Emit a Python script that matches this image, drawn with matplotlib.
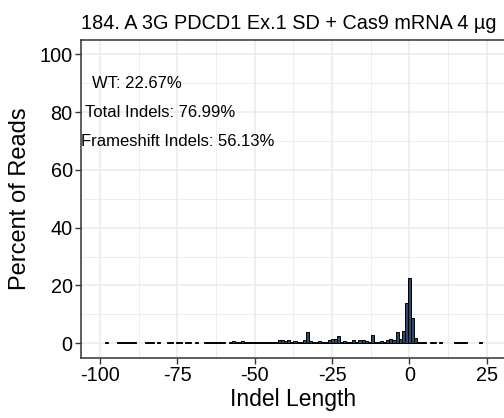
import matplotlib
matplotlib.use('Agg')
import matplotlib.pyplot as plt
import numpy as np

# indel length (bp) and percent of reads
indel_lengths = list(range(-100, 26))
percent_reads = [
    0, 0, 0.3, 0, 0, 0, 0.3, 0.3, 0.3, 0.3,            # -100 .. -91
    0.3, 0.3, 0, 0, 0, 0.3, 0.3, 0.3, 0, 0.3,          # -90 .. -81
    0, 0, 0.3, 0.3, 0, 0.3, 0.3, 0, 0.3, 0.3,          # -80 .. -71
    0, 0.6, 0, 0, 0.3, 0.3, 0.3, 0.4, 0.3, 0.3,        # -70 .. -61
    0.3, 0, 0.6, 0.7, 0.6, 0.5, 0.7, 0.5, 0.5, 0.6,    # -60 .. -51
    0.3, 0.4, 0.3, 0.3, 0.3, 0.3, 0.3, 0.5, 1.0, 1.2,  # -50 .. -41
    0.8, 1.1, 0.6, 0.8, 0.5, 0.6, 1.0, 3.8, 0.9, 0.4,  # -40 .. -31
    0.5, 0.9, 0.6, 0.5, 1.0, 1.4, 1.4, 2.5, 0.6, 0.8,  # -30 .. -21
    0.5, 0.6, 1.0, 0.6, 1.2, 1.1, 0.7, 0.6, 2.9, 0.4,  # -20 .. -11
    0.5, 0.7, 0.6, 1.0, 1.6, 1.2, 3.8, 1.6, 4.2, 13.9, # -10 .. -1
    22.67, 8.9, 1.8, 0.3, 0.3, 0.3, 0, 0.3, 0.3, 0,    # 0 .. 9
    0.3, 0, 0, 0, 0, 0.3, 0.3, 0.3, 0.3, 0,            # 10 .. 19
    0, 0, 0, 0.3, 0, 0,                                # 20 .. 25
]

title = '184. A 3G PDCD1 Ex.1 SD + Cas9 mRNA 4 µg'
stats_labels = ['WT: 22.67%', 'Total Indels: 76.99%', 'Frameshift Indels: 56.13%']

plt.rcParams['font.family'] = ['Liberation Sans', 'DejaVu Sans']
plt.rcParams['axes.unicode_minus'] = False

fig = plt.figure(figsize=(5.04, 4.18), dpi=100)
# panel runs to the right edge, as in the reference crop
ax = fig.add_axes([0.1607, 0.1443, 0.842, 0.7600])

x = [l for l, p in zip(indel_lengths, percent_reads) if p > 0]
y = [p for p in percent_reads if p > 0]
ax.bar(x, y, width=1.0, color='#2E4A6B', edgecolor='black', linewidth=0.7, zorder=3)

ax.set_xticks([-100, -75, -50, -25, 0, 25])
ax.set_xticks([-87.5, -62.5, -37.5, -12.5, 12.5], minor=True)
ax.set_yticks([0, 20, 40, 60, 80, 100])
ax.set_yticks([10, 30, 50, 70, 90], minor=True)
ax.set_xlim(-106.2, 31)
ax.set_ylim(-5, 105)
ax.grid(which='major', color='#EBEBEB', linewidth=1.1, zorder=0)
ax.grid(which='minor', color='#EBEBEB', linewidth=0.6, zorder=0)
ax.tick_params(which='major', length=4, width=1, color='#333333',
               labelsize=14.3, labelcolor='black', pad=2)
ax.tick_params(which='minor', length=0)
for s in ax.spines.values():
    s.set_color('#333333')
    s.set_linewidth(1.1)

ax.set_xlabel('Indel Length', fontsize=16.5, labelpad=2)
ax.set_ylabel('Percent of Reads', fontsize=17, labelpad=6)
ax.set_title(title, fontsize=14.3, loc='left', pad=8)

for lbl, (tx, ty) in zip(stats_labels, [(-102.7, 90), (-105.0, 80), (-106.2, 70)]):
    ax.text(tx, ty, lbl, fontsize=12, ha='left', va='center', zorder=4)

fig.savefig('out.png', dpi=100)
